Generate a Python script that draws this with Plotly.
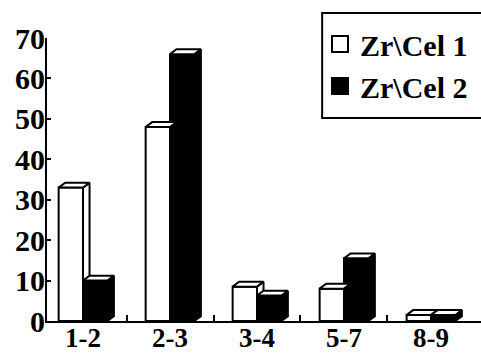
import plotly.graph_objects as go

# Size classes and the two series
categories = ["1-2", "2-3", "3-4", "5-7", "8-9"]
zr_cel_1 = [33, 48, 8.5, 8, 1.5]
zr_cel_2 = [10, 66, 6.3, 15.5, 1.5]
series_names = ["Zr\\Cel 1", "Zr\\Cel 2"]
y_ticks = [0, 10, 20, 30, 40, 50, 60, 70]

positions = list(range(len(categories)))
serif = "Liberation Serif"

# Bar geometry (category units) and the offset of the pseudo-3D faces
bar_w = 0.28
depth_x = 0.075
depth_y = 1.2


def cap_polygons(lefts, values):
    xs, ys = [], []
    for xl, v in zip(lefts, values):
        xr = xl + bar_w
        xs += [xl, xl + depth_x, xr + depth_x, xr, xl, None]
        ys += [v, v + depth_y, v + depth_y, v, v, None]
    return xs, ys


def side_polygons(lefts, values, floors):
    xs, ys = [], []
    for xl, v, lo in zip(lefts, values, floors):
        if v <= lo:
            continue
        xr = xl + bar_w
        xs += [xr, xr + depth_x, xr + depth_x, xr, xr, None]
        ys += [lo, lo + depth_y if lo == 0 else lo, v + depth_y, v, lo, None]
    return xs, ys


left_1 = [p - bar_w for p in positions]
left_2 = [p for p in positions]

fig = go.Figure()
fig.add_trace(go.Bar(
    x=positions, y=zr_cel_1, name=series_names[0], offset=-bar_w, width=bar_w,
    marker=dict(color="white", line=dict(color="black", width=2)), showlegend=False,
))
fig.add_trace(go.Bar(
    x=positions, y=zr_cel_2, name=series_names[1], offset=0, width=bar_w,
    marker=dict(color="black", line=dict(color="black", width=2)), showlegend=False,
))

# right-hand faces and top faces
sx, sy = side_polygons(left_1, zr_cel_1, zr_cel_2)
fig.add_trace(go.Scatter(x=sx, y=sy, mode="lines", fill="toself", fillcolor="white",
                         line=dict(color="black", width=2), showlegend=False, hoverinfo="skip"))
cx, cy = cap_polygons(left_1, zr_cel_1)
fig.add_trace(go.Scatter(x=cx, y=cy, mode="lines", fill="toself", fillcolor="white",
                         line=dict(color="black", width=2), showlegend=False, hoverinfo="skip"))
sx, sy = side_polygons(left_2, zr_cel_2, [0] * len(zr_cel_2))
fig.add_trace(go.Scatter(x=sx, y=sy, mode="lines", fill="toself", fillcolor="black",
                         line=dict(color="black", width=2), showlegend=False, hoverinfo="skip"))
cx, cy = cap_polygons(left_2, zr_cel_2)
fig.add_trace(go.Scatter(x=cx, y=cy, mode="lines", fill="toself", fillcolor="white",
                         line=dict(color="black", width=2), showlegend=False, hoverinfo="skip"))

# legend keys: larger square swatches
for name, fill in zip(series_names, ["white", "black"]):
    fig.add_trace(go.Scatter(
        x=[None], y=[None], mode="markers", name=name,
        marker=dict(symbol="square", size=17, color=fill, line=dict(color="black", width=2)),
    ))

fig.update_layout(
    width=481, height=362,
    margin=dict(l=47, r=0, t=38, b=41),
    paper_bgcolor="white", plot_bgcolor="white",
    barmode="overlay",
    font=dict(family=serif, size=26, color="black"),
    showlegend=True,
    legend=dict(
        x=0.629, xanchor="left", y=1.071, yanchor="top",
        bgcolor="rgba(0,0,0,0)", borderwidth=0,
        font=dict(family=serif, size=30, color="black", weight="bold"),
        tracegroupgap=0, itemsizing="trace",
    ),
    shapes=[dict(type="rect", xref="paper", yref="paper",
                 x0=0.634, x1=1.01, y0=0.717, y1=1.088,
                 line=dict(color="black", width=2), fillcolor="rgba(0,0,0,0)",
                 layer="above")],
)
fig.update_xaxes(
    range=[-0.414, 4.575],
    tickvals=positions, ticktext=categories,
    showline=True, linecolor="black", linewidth=2,
    ticks="", showgrid=False, zeroline=False,
    ticklabelstandoff=-8,
    tickfont=dict(family=serif, size=27, color="black", weight="bold"),
    minor=dict(tickvals=[0.5, 1.5, 2.5, 3.5], ticks="inside", ticklen=6,
               tickcolor="black", tickwidth=2),
)
fig.update_yaxes(
    range=[0, 70], tickvals=y_ticks,
    showline=True, linecolor="black", linewidth=2,
    ticks="inside", ticklen=4, tickcolor="black", tickwidth=2,
    showgrid=False, zeroline=False,
    ticklabelstandoff=-6,
    tickfont=dict(family=serif, size=30, color="black", weight="bold"),
)

fig.write_html("out.html")
